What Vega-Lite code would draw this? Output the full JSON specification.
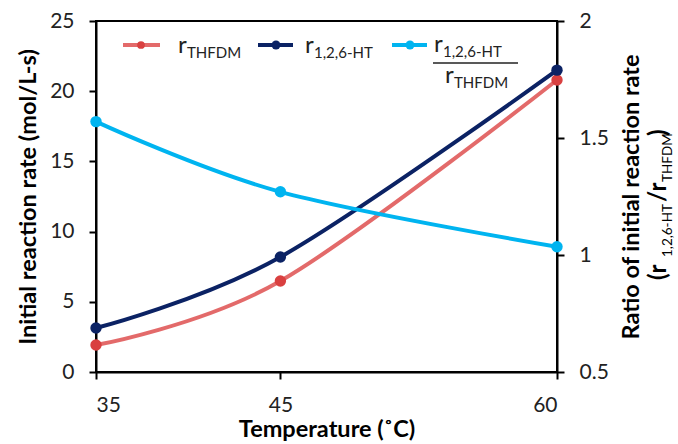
{
  "$schema": "https://vega.github.io/schema/vega-lite/v6.json",
  "width": 461,
  "height": 351,
  "autosize": "none",
  "padding": {"left": 96, "top": 21, "right": 121, "bottom": 72},
  "background": "white",
  "config": {
    "font": "Lato",
    "view": {"stroke": "black", "strokeWidth": 2},
    "axis": {"grid": false, "domainColor": "black", "domainWidth": 2, "tickColor": "black", "tickWidth": 2, "tickSize": 7, "labelFont": "Lato", "labelFontSize": 21, "labelColor": "#222", "titleFont": "Lato", "titleFontSize": 23.5, "titleFontWeight": "bold", "titleColor": "black"}
  },
  "datasets": {
    "rates": [
      {"temp": 35, "series": "THFDM", "rate": 1.92},
      {"temp": 45, "series": "THFDM", "rate": 6.48},
      {"temp": 60, "series": "THFDM", "rate": 20.8},
      {"temp": 35, "series": "HT", "rate": 3.13},
      {"temp": 45, "series": "HT", "rate": 8.19},
      {"temp": 60, "series": "HT", "rate": 21.5}
    ],
    "ratio": [
      {"temp": 35, "ratio": 1.57},
      {"temp": 45, "ratio": 1.27},
      {"temp": 60, "ratio": 1.035}
    ]
  },
  "layer": [
    {
      "data": {"name": "rates"},
      "encoding": {
        "x": {"field": "temp", "type": "quantitative", "scale": {"domain": [35, 60], "nice": false, "zero": false},
          "axis": {"values": [35, 45, 60], "title": "Temperature (˚C)", "labelPadding": 15, "titlePadding": 2}},
        "y": {"field": "rate", "type": "quantitative", "scale": {"domain": [0, 25], "nice": false},
          "axis": {"values": [0, 5, 10, 15, 20, 25], "title": "Initial reaction rate (mol/L-s)", "labelPadding": 15, "titlePadding": 9}}
      },
      "layer": [
        {
          "transform": [{"filter": "datum.series === 'THFDM'"}],
          "mark": {"type": "line", "interpolate": "cardinal", "color": "#e05a5a", "strokeWidth": 4, "opacity": 0.9, "point": {"filled": true, "size": 130, "color": "#d94040"}}
        },
        {
          "transform": [{"filter": "datum.series === 'HT'"}],
          "mark": {"type": "line", "interpolate": "cardinal", "color": "#0b2264", "strokeWidth": 4, "point": {"filled": true, "size": 130, "color": "#0b2264"}}
        }
      ]
    },
    {
      "data": {"name": "ratio"},
      "mark": {"type": "line", "interpolate": "cardinal", "color": "#00b4f0", "strokeWidth": 4, "point": {"filled": true, "size": 130, "color": "#00b4f0"}},
      "encoding": {
        "x": {"field": "temp", "type": "quantitative"},
        "y": {"field": "ratio", "type": "quantitative", "scale": {"domain": [0.5, 2], "nice": false, "zero": false},
          "axis": {"orient": "right", "values": [0.5, 1, 1.5, 2], "format": "~g", "title": "Ratio of initial reaction rate", "titleAngle": 270, "labelPadding": 15, "titlePadding": 35}}
      }
    },
    {
      "data": {"values": [{}]},
      "layer": [
        {"mark": {"type": "rule", "color": "#e05a5a", "strokeWidth": 4, "opacity": 0.9}, "encoding": {"x": {"value": 27}, "x2": {"value": 64}, "y": {"value": 24}}},
        {"mark": {"type": "point", "filled": true, "size": 60, "color": "#d94040", "opacity": 1}, "encoding": {"x": {"value": 45}, "y": {"value": 24}}},
        {"mark": {"type": "text", "text": "r", "fontSize": 24, "align": "left", "baseline": "alphabetic", "color": "#222"}, "encoding": {"x": {"value": 82}, "y": {"value": 32}}},
        {"mark": {"type": "text", "text": "THFDM", "fontSize": 15, "align": "left", "baseline": "alphabetic", "color": "#222"}, "encoding": {"x": {"value": 91}, "y": {"value": 37}}},

        {"mark": {"type": "rule", "color": "#0b2264", "strokeWidth": 4}, "encoding": {"x": {"value": 162}, "x2": {"value": 197}, "y": {"value": 24}}},
        {"mark": {"type": "point", "filled": true, "size": 80, "color": "#0b2264", "opacity": 1}, "encoding": {"x": {"value": 180}, "y": {"value": 24}}},
        {"mark": {"type": "text", "text": "r", "fontSize": 24, "align": "left", "baseline": "alphabetic", "color": "#222"}, "encoding": {"x": {"value": 209}, "y": {"value": 32}}},
        {"mark": {"type": "text", "text": "1,2,6-HT", "fontSize": 15, "align": "left", "baseline": "alphabetic", "color": "#222"}, "encoding": {"x": {"value": 218}, "y": {"value": 37}}},

        {"mark": {"type": "rule", "color": "#00b4f0", "strokeWidth": 4}, "encoding": {"x": {"value": 296}, "x2": {"value": 331}, "y": {"value": 24}}},
        {"mark": {"type": "point", "filled": true, "size": 80, "color": "#00b4f0", "opacity": 1}, "encoding": {"x": {"value": 314}, "y": {"value": 24}}},
        {"mark": {"type": "text", "text": "r", "fontSize": 24, "align": "left", "baseline": "alphabetic", "color": "#222"}, "encoding": {"x": {"value": 338}, "y": {"value": 31}}},
        {"mark": {"type": "text", "text": "1,2,6-HT", "fontSize": 15, "align": "left", "baseline": "alphabetic", "color": "#222"}, "encoding": {"x": {"value": 347}, "y": {"value": 36}}},
        {"mark": {"type": "rule", "color": "#222", "strokeWidth": 1.5}, "encoding": {"x": {"value": 337}, "x2": {"value": 422}, "y": {"value": 42}}},
        {"mark": {"type": "text", "text": "r", "fontSize": 24, "align": "left", "baseline": "alphabetic", "color": "#222"}, "encoding": {"x": {"value": 349}, "y": {"value": 62}}},
        {"mark": {"type": "text", "text": "THFDM", "fontSize": 15, "align": "left", "baseline": "alphabetic", "color": "#222"}, "encoding": {"x": {"value": 358}, "y": {"value": 67}}},

        {"mark": {"type": "text", "text": "(r", "fontSize": 24, "fontWeight": "bold", "angle": 270, "align": "left", "baseline": "alphabetic", "color": "black"}, "encoding": {"x": {"value": 570}, "y": {"value": 259}}},
        {"mark": {"type": "text", "text": "1,2,6-HT", "fontSize": 13.5, "angle": 270, "align": "left", "baseline": "alphabetic", "color": "black"}, "encoding": {"x": {"value": 576}, "y": {"value": 236}}},
        {"mark": {"type": "text", "text": "/r", "fontSize": 24, "fontWeight": "bold", "angle": 270, "align": "left", "baseline": "alphabetic", "color": "black"}, "encoding": {"x": {"value": 570}, "y": {"value": 181}}},
        {"mark": {"type": "text", "text": "THFDM", "fontSize": 13.5, "angle": 270, "align": "left", "baseline": "alphabetic", "color": "black"}, "encoding": {"x": {"value": 576}, "y": {"value": 161}}},
        {"mark": {"type": "text", "text": ")", "fontSize": 24, "fontWeight": "bold", "angle": 270, "align": "left", "baseline": "alphabetic", "color": "black"}, "encoding": {"x": {"value": 570}, "y": {"value": 115}}}
      ]
    }
  ],
  "resolve": {"scale": {"y": "independent"}, "axis": {"y": "independent"}}
}
